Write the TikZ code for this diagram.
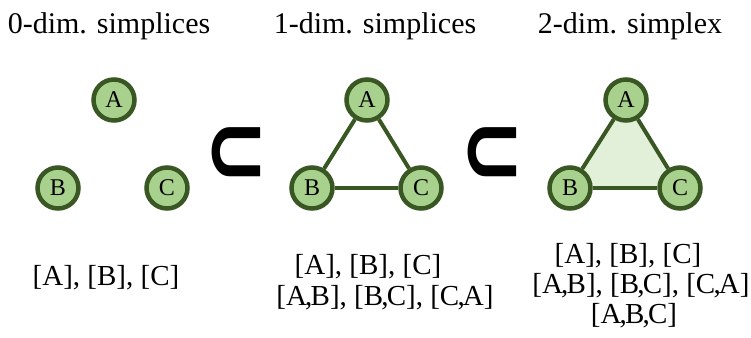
\documentclass[tikz,border=0pt]{standalone}
\usepackage{fontspec}
\setmainfont{Liberation Serif}
\newfontfamily\symfont{DejaVu Sans}
\usepackage{xcolor}
\usetikzlibrary{backgrounds}

\definecolor{vertfill}{RGB}{169,209,142}
\definecolor{vertline}{RGB}{56,87,35}
\definecolor{facefill}{RGB}{226,240,217}

\newcommand{\innercomma}{\kern-1.8pt,\kern-1.8pt}

\tikzset{
    vertex/.style={circle, draw=vertline, fill=vertfill, line width=4.5pt,
        minimum size=41pt, inner sep=0pt, font=\fontsize{24}{26}\selectfont},
    edge/.style={draw=vertline, line width=4pt},
    title/.style={anchor=base, font=\fontsize{30}{33}\selectfont},
    simp/.style={anchor=base, font=\fontsize{29}{31}\selectfont},
    subset/.style={font=\symfont\bfseries\fontsize{100}{102}\selectfont, inner sep=0pt}
}

\begin{document}
\begin{tikzpicture}[x=1pt,y=-1pt]
    \useasboundingbox (0,0) rectangle (751,337);

    % Titel
    \node[title] (t0) at (109,34) {0-dim. simplices};
    \node[title] (t1) at (375,34) {1-dim. simplices};
    \node[title] (t2) at (630,34) {2-dim. simplex};

    % 0-dim
    \node[vertex] (a0) at (114,100) {A};
    \node[vertex] (b0) at (58,188) {B};
    \node[vertex] (c0) at (167,188) {C};

    % 1-dim
    \node[vertex] (a1) at (367,100) {A};
    \node[vertex] (b1) at (312,188) {B};
    \node[vertex] (c1) at (421,188) {C};
    \draw[edge] (a1) -- (b1);
    \draw[edge] (b1) -- (c1);
    \draw[edge] (c1) -- (a1);

    % 2-dim
    \node[vertex] (a2) at (626,100) {A};
    \node[vertex] (b2) at (570,188) {B};
    \node[vertex] (c2) at (680,188) {C};
    \begin{pgfonlayer}{background}
        \fill[facefill] (a2.center) -- (b2.center) -- (c2.center) -- cycle;
    \end{pgfonlayer}
    \draw[edge] (a2) -- (b2);
    \draw[edge] (b2) -- (c2);
    \draw[edge] (c2) -- (a2);

    % Teilmengen
    \node[subset] (s0) at (236,156) {\scalebox{0.76}[1]{⊂}};
    \node[subset] (s1) at (492,156) {\scalebox{0.76}[1]{⊂}};

    % Simplizes
    \node[simp] (l0) at (106,285) {[A], [B], [C]};
    \node[simp] (l1a) at (368,274) {[A], [B], [C]};
    \node[simp] (l1b) at (385,305) {[A\innercomma B], [B\innercomma C], [C\innercomma A]};
    \node[simp] (l2a) at (628,263) {[A], [B], [C]};
    \node[simp] (l2b) at (641,293) {[A\innercomma B], [B\innercomma C], [C\innercomma A]};
    \node[simp] (l2c) at (634,323) {[A\innercomma B\innercomma C]};
\end{tikzpicture}
\end{document}
